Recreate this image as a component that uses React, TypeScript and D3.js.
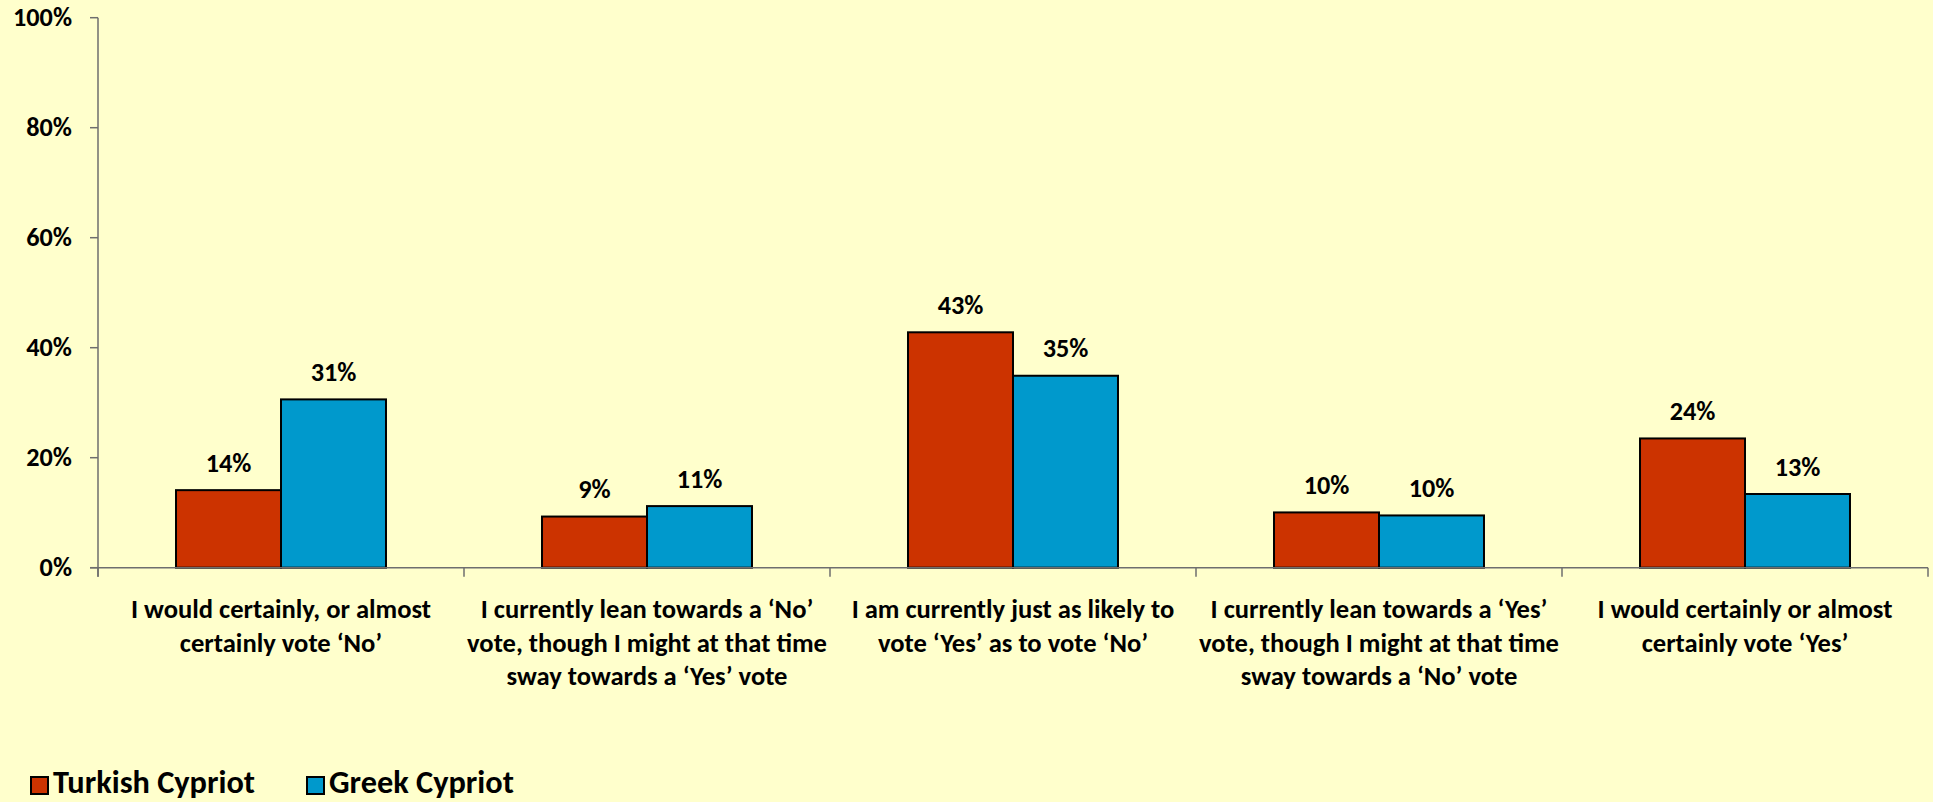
import React from "react";
import * as d3 from "d3";

const categories = [
  ["I would certainly, or almost", "certainly vote ‘No’"],
  ["I currently lean towards a ‘No’", "vote, though I might at that time", "sway towards a ‘Yes’ vote"],
  ["I am currently just as likely to", "vote ‘Yes’ as to vote ‘No’"],
  ["I currently lean towards a ‘Yes’", "vote, though I might at that time", "sway towards a ‘No’ vote"],
  ["I would certainly or almost", "certainly vote ‘Yes’"],
];
const seriesNames = ["Turkish Cypriot", "Greek Cypriot"];
const turkishCypriot = [14.1, 9.3, 42.8, 10.05, 23.5];
const greekCypriot = [30.6, 11.2, 34.9, 9.5, 13.4];
const valueLabels = [
  ["14%", "9%", "43%", "10%", "24%"],
  ["31%", "11%", "35%", "10%", "13%"],
];
const yTicks = [0, 20, 40, 60, 80, 100];
const colors = ["#CC3300", "#0099CC"];

const W = 1933;
const H = 802;
const FONT = "Carlito, Lato, 'Open Sans', sans-serif";

// fit a font size so that a sample string has the width seen in the reference
function fitSize(sample: string, target: number, fallback: number): number {
  try {
    const c = document.createElement("canvas").getContext("2d");
    if (!c) return fallback;
    c.font = `bold 100px ${FONT}`;
    const w = c.measureText(sample).width / 100;
    if (!w) return fallback;
    const s = target / w;
    return Math.max(fallback * 0.8, Math.min(fallback * 1.3, s));
  } catch (e) {
    return fallback;
  }
}

export default function App() {
  const catSize = fitSize("vote, though I might at that time", 360, 25);
  const numSize = fitSize("100%", 59, 25);
  const legSize = fitSize("Turkish Cypriot", 202, 29);

  const series = [turkishCypriot, greekCypriot];
  const catIdx = categories.map((_, i) => String(i));
  const x0 = d3.scaleBand<string>().domain(catIdx).range([98, 1928]).paddingInner(0).paddingOuter(0);
  const x1 = d3
    .scaleBand<string>()
    .domain(seriesNames)
    .range([0, x0.bandwidth()])
    .paddingInner(0)
    .paddingOuter(0.743);
  const y = d3.scaleLinear().domain([0, 100]).range([567.7, 17.7]);
  const y0 = y(0);
  const axisColor = "#6e6e6e";

  return (
    <svg
      width={W}
      height={H}
      style={{ position: "absolute", left: 0, top: 0, display: "block" }}
      fontFamily={FONT}
      fontWeight="bold"
    >
      <rect x={0} y={0} width={W} height={H} fill="#FFFFCC" />

      {/* bars */}
      {series.map((vals, si) =>
        vals.map((v, ci) => {
          const bx = (x0(String(ci)) as number) + (x1(seriesNames[si]) as number);
          const bw = x1.bandwidth();
          return (
            <rect
              key={`b-${si}-${ci}`}
              x={bx}
              y={y(v)}
              width={bw}
              height={y0 - y(v)}
              fill={colors[si]}
              stroke="#000"
              strokeWidth={2}
            />
          );
        })
      )}

      {/* value labels */}
      {series.map((vals, si) =>
        vals.map((v, ci) => {
          const cx = (x0(String(ci)) as number) + (x1(seriesNames[si]) as number) + x1.bandwidth() / 2;
          return (
            <text
              key={`l-${si}-${ci}`}
              x={cx}
              y={y(v) - 18.5}
              textAnchor="middle"
              fontSize={numSize}
              fill="#000"
            >
              {valueLabels[si][ci]}
            </text>
          );
        })
      )}

      {/* y axis */}
      <line x1={98} x2={98} y1={y(100)} y2={y0 + 9} stroke={axisColor} strokeWidth={1.5} />
      {yTicks.map((t) => (
        <g key={`yt-${t}`}>
          <line x1={90} x2={98} y1={y(t)} y2={y(t)} stroke={axisColor} strokeWidth={1.5} />
          <text x={72} y={y(t) + 8} textAnchor="end" fontSize={numSize} fill="#000">
            {`${t}%`}
          </text>
        </g>
      ))}

      {/* x axis */}
      <line x1={90} x2={1928} y1={y0} y2={y0} stroke={axisColor} strokeWidth={1.5} />
      {[...catIdx.map((c) => x0(c) as number), 1928].map((tx, i) => (
        <line key={`xt-${i}`} x1={tx} x2={tx} y1={y0} y2={y0 + 9} stroke={axisColor} strokeWidth={1.5} />
      ))}
      {categories.map((lines, ci) => {
        const cx = (x0(String(ci)) as number) + x0.bandwidth() / 2;
        return (
          <text key={`c-${ci}`} x={cx} textAnchor="middle" fontSize={catSize} fill="#000">
            {lines.map((ln, li) => (
              <tspan key={li} x={cx} y={618.3 + li * 33.3}>
                {ln}
              </tspan>
            ))}
          </text>
        );
      })}

      {/* legend */}
      {seriesNames.map((name, si) => {
        const lx = [30, 306][si];
        return (
          <g key={`lg-${si}`}>
            <rect x={lx + 1} y={777} width={17} height={17} fill={colors[si]} stroke="#000" strokeWidth={2} />
            <text x={lx + 23} y={793} fontSize={legSize} fill="#000">
              {name}
            </text>
          </g>
        );
      })}
    </svg>
  );
}
